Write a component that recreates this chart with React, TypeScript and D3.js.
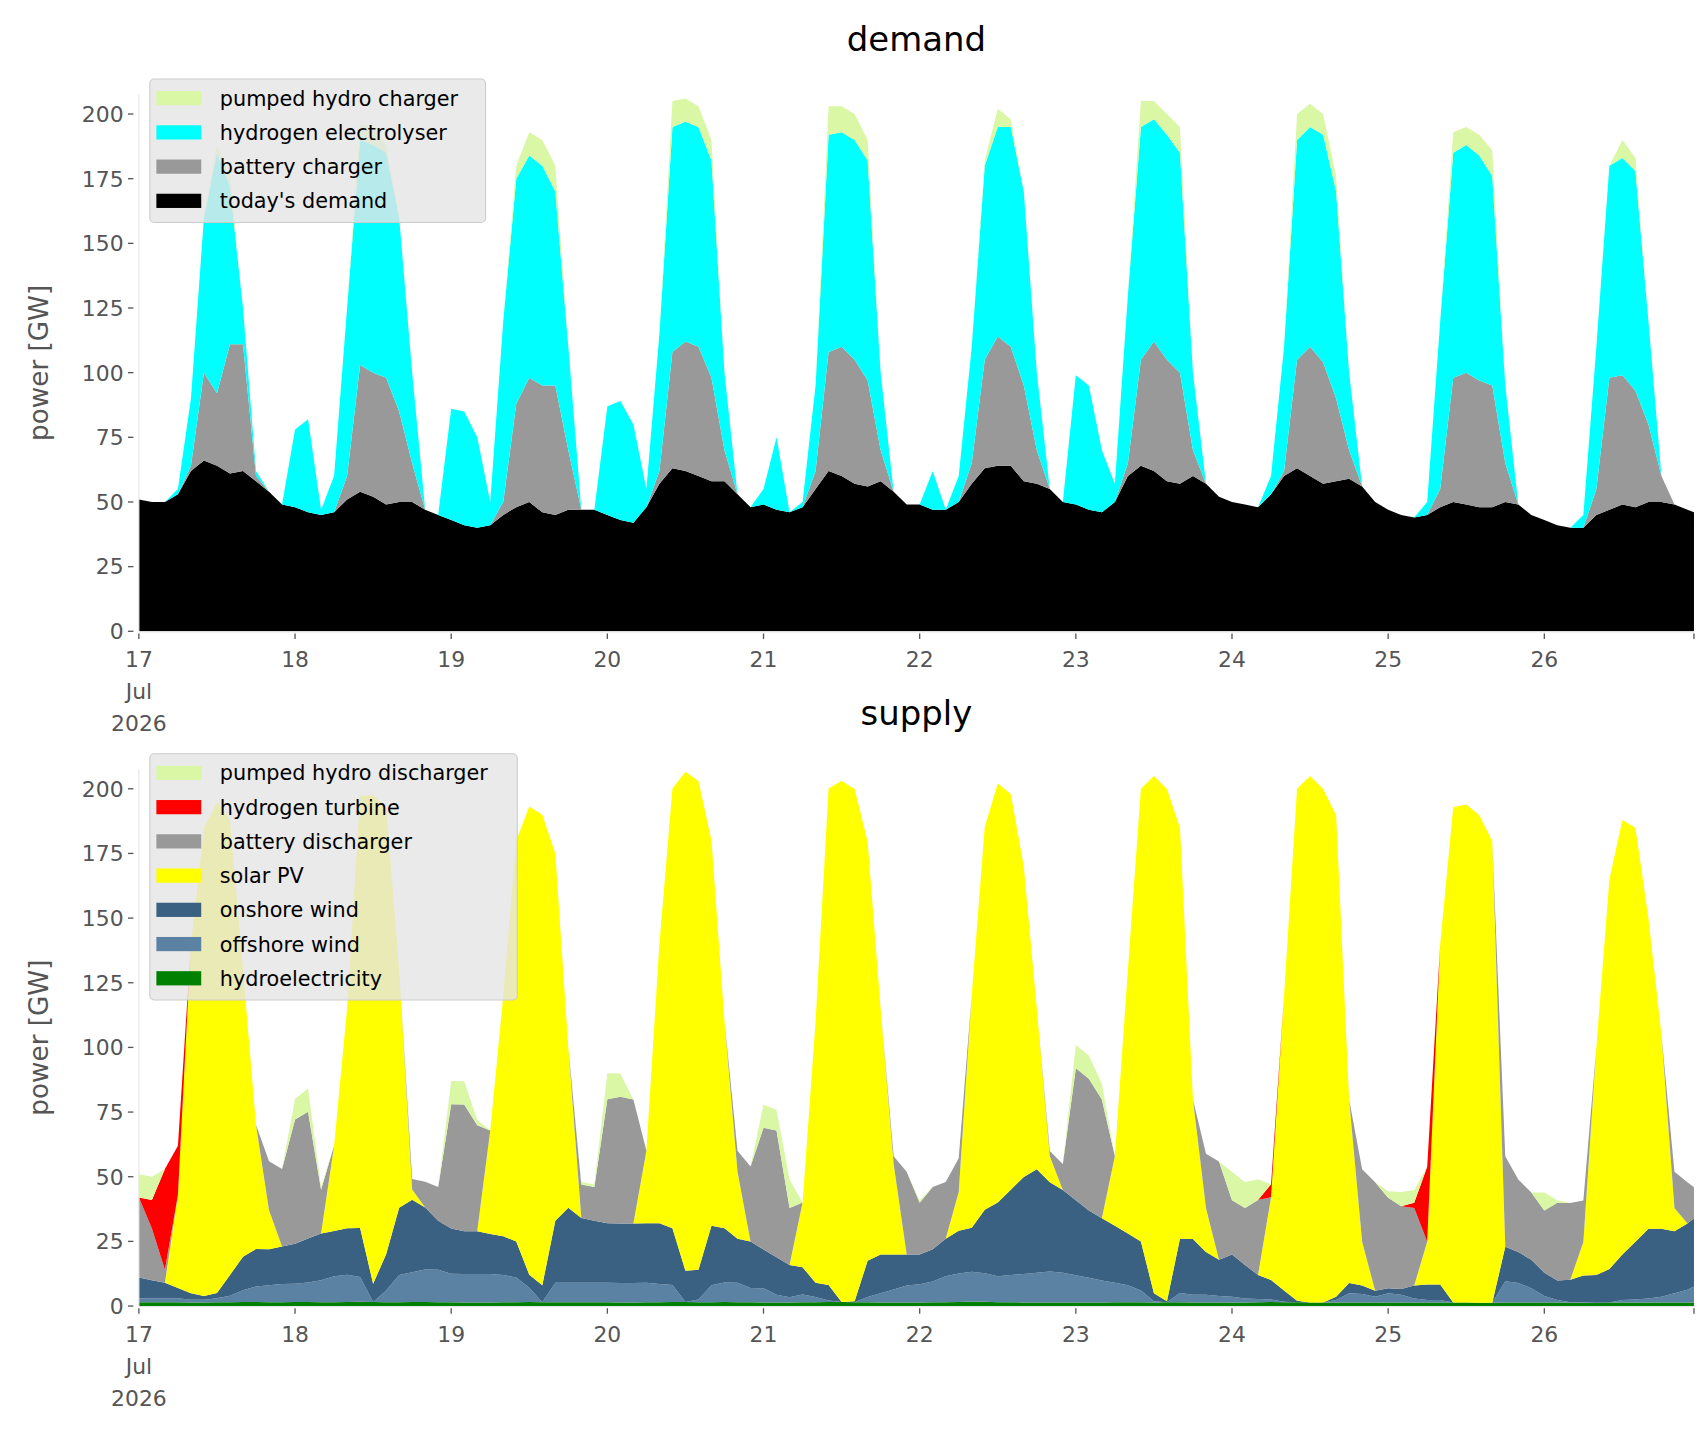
import { useEffect } from 'react';
import * as d3 from 'd3';

// two-hourly samples from 17 Jul 2026 00:00, last sample at 26 Jul 23:00
const dayLabels = ['17', '18', '19', '20', '21', '22', '23', '24', '25', '26'];
const yTicks = [0, 25, 50, 75, 100, 125, 150, 175, 200];

// ---- demand side (GW) ----
const todaysDemand = [
  51, 50, 50, 53, 62, 66, 64, 61, 62, 58, 54, 49,
  48, 46, 45, 46, 51, 54, 52, 49, 50, 50, 47, 45,
  43, 41, 40, 41, 45, 48, 50, 46, 45, 47, 47, 47,
  45, 43, 42, 48, 57, 63, 62, 60, 58, 58, 53, 48,
  49, 47, 46, 48, 55, 62, 60, 57, 56, 58, 54, 49,
  49, 47, 47, 50, 57, 63, 64, 64, 58, 57, 55, 50,
  49, 47, 46, 50, 60, 64, 62, 58, 57, 60, 57, 52,
  50, 49, 48, 53, 60, 63, 60, 57, 58, 59, 56, 50,
  47, 45, 44, 45, 48, 50, 49, 48, 48, 50, 49, 45,
  43, 41, 40, 40, 45, 47, 49, 48, 50, 50, 49, 47, 46,
];
const batteryCharger = [
  0, 0, 0, 0, 2, 34, 28, 50, 49, 2, 0, 0,
  0, 0, 0, 0, 9, 49, 48, 49, 35, 15, 0, 0,
  0, 0, 0, 0, 5, 40, 48, 49, 50, 23, 0, 0,
  0, 0, 0, 0, 5, 45, 50, 50, 40, 12, 0, 0,
  0, 0, 0, 0, 7, 46, 50, 48, 41, 12, 0, 0,
  0, 0, 0, 0, 8, 42, 50, 46, 37, 13, 0, 0,
  0, 0, 0, 0, 5, 41, 50, 47, 43, 10, 0, 0,
  0, 0, 0, 0, 2, 42, 50, 47, 32, 11, 0, 0,
  0, 0, 0, 0, 7, 48, 51, 49, 47, 15, 0, 0,
  0, 0, 0, 0, 10, 51, 50, 45, 30, 10, 0, 0, 0,
];
const hydrogenElectrolyser = [
  0, 0, 0, 2, 26, 60, 93, 61, 14, 2, 0, 0,
  30, 36, 2, 14, 65, 87, 88, 87, 75, 35, 0, 0,
  43, 44, 35, 9, 70, 87, 86, 85, 75, 40, 0, 0,
  42, 46, 38, 7, 53, 87, 85, 85, 84, 30, 0, 0,
  6, 28, 0, 2, 33, 84, 83, 85, 85, 30, 0, 0,
  0, 15, 0, 10, 45, 75, 81, 85, 75, 30, 0, 0,
  50, 48, 24, 7, 65, 90, 86, 87, 85, 30, 0, 0,
  0, 0, 0, 7, 48, 85, 85, 88, 80, 30, 0, 0,
  0, 0, 0, 5, 65, 87, 88, 87, 81, 30, 0, 0,
  0, 0, 0, 5, 55, 82, 84, 85, 40, 0, 0, 0, 0,
];
const pumpedHydroCharger = [
  0, 0, 0, 0, 0, 0, 3, 4, 0, 0, 0, 0,
  0, 0, 0, 0, 0, 6, 7, 3, 0, 0, 0, 0,
  0, 0, 0, 0, 0, 5, 9, 10, 10, 0, 0, 0,
  0, 0, 0, 0, 0, 10, 9, 8, 8, 0, 0, 0,
  0, 0, 0, 0, 0, 11, 10, 10, 8, 0, 0, 0,
  0, 0, 0, 0, 0, 2, 7, 3, 0, 0, 0, 0,
  0, 0, 0, 0, 0, 10, 7, 8, 10, 0, 0, 0,
  0, 0, 0, 0, 0, 10, 9, 8, 6, 0, 0, 0,
  0, 0, 0, 0, 0, 8, 7, 8, 10, 0, 0, 0,
  0, 0, 0, 0, 0, 0, 7, 5, 0, 0, 0, 0, 0,
];

// ---- supply side (GW) ----
const hydroelectricity = [
  1.5, 1.5, 1.5, 1.5, 1.4, 1.4, 1.5, 1.5, 1.6, 1.6, 1.5, 1.5,
  1.6, 1.6, 1.5, 1.5, 1.6, 1.7, 1.6, 1.5, 1.5, 1.6, 1.6, 1.5,
  1.5, 1.4, 1.4, 1.4, 1.5, 1.5, 1.6, 1.5, 1.5, 1.5, 1.5, 1.5,
  1.5, 1.4, 1.4, 1.5, 1.5, 1.6, 1.6, 1.5, 1.5, 1.6, 1.5, 1.5,
  1.4, 1.4, 1.4, 1.5, 1.5, 1.6, 1.6, 1.5, 1.5, 1.4, 1.4, 1.4,
  1.4, 1.5, 1.5, 1.6, 1.8, 1.7, 1.5, 1.5, 1.4, 1.4, 1.4, 1.4,
  1.4, 1.4, 1.4, 1.5, 1.5, 1.5, 1.4, 1.5, 1.5, 1.4, 1.4, 1.4,
  1.4, 1.4, 1.5, 1.6, 1.5, 1.5, 1.4, 1.4, 1.4, 1.4, 1.4, 1.4,
  1.4, 1.4, 1.4, 1.4, 1.4, 1.4, 1.4, 1.3, 1.3, 1.4, 1.4, 1.4,
  1.4, 1.4, 1.3, 1.3, 1.3, 1.4, 1.4, 1.4, 1.4, 1.4, 1.4, 1.4, 1.4,
];
const offshoreWind = [
  1.5, 1.5, 1.5, 1.5, 1, 1, 1.5, 2.5, 4.5, 6, 6.5, 7,
  7, 7.5, 8.5, 10, 10.5, 9.5, 0, 4.5, 10.5, 11.5, 12.5, 12.5,
  11, 11, 11, 11, 10.5, 9.5, 5.5, 0, 7.5, 7.5, 7.5, 7.5,
  7.5, 7.5, 7.5, 7.5, 7, 6.5, 0, 1, 6.5, 7.5, 7.5, 5.5,
  5.5, 3, 2, 3, 2, 0.5, 0, 0, 2, 3.5, 5, 6.5,
  7, 8, 10, 11, 11.5, 11, 10, 10.5, 11, 11.5, 12, 11.5,
  10.5, 9.5, 8.5, 7.5, 6.5, 4.5, 0.5, 0, 3.5, 3, 3, 2.5,
  2.2, 1.5, 1.2, 0.9, 0.2, 0, 0, 0, 0.9, 3.5, 3.3, 2.2,
  3.5, 3, 1.5, 0.9, 0.9, 0, 0, 0, 0, 8.2, 7.5, 5.5,
  2.5, 0.9, 0.2, 0.2, 0, 0, 0.9, 1.1, 1.5, 2.2, 3.5, 4.9, 6.2,
];
const onshoreWind = [
  8, 7, 6, 4, 2.5, 1.5, 2, 8, 13, 14.5, 14, 14.5,
  15.5, 17, 18, 17.5, 18, 19, 7, 14, 26, 28, 24, 19,
  17.5, 16.5, 16.5, 15.5, 15, 14, 5, 6.5, 24, 29, 25, 24,
  23, 23, 23, 23, 23.5, 22, 12, 11.5, 23, 21, 17, 18,
  15, 14.5, 12.5, 10.5, 5.5, 6, 0, 0.4, 14, 15, 13.5, 12,
  11.5, 12.5, 14.5, 16.5, 17, 24.5, 28.5, 33, 37.5, 40, 34.5, 32,
  29, 26, 24, 22, 20, 19, 3, 0.4, 21, 21.5, 16.5, 14,
  16.3, 13, 9.3, 7.6, 4.3, 0.5, 0, 0, 1.3, 4, 3.2, 2.3,
  2, 2.2, 5, 6, 6, 0, 0, 0, 0, 13.3, 12, 11,
  9, 7.6, 8.7, 10.3, 10.7, 12.9, 17.6, 22.4, 27, 26.3, 24, 25.6, 26.3,
];
const solarPV = [
  0, 0, 0, 36, 135, 181, 190, 176, 111, 48, 15, 0,
  0, 0, 0, 33, 85, 167, 189, 173, 92, 4, 0, 0,
  0, 0, 0, 40, 93, 155, 181, 182, 142, 62, 0, 0,
  0, 0, 0, 28, 108, 170, 193, 189, 149, 80, 26, 0,
  0, 0, 0, 25, 101, 192, 201.5, 198, 162, 95, 35, 0,
  0, 0, 0, 15, 90, 148, 162, 153, 120, 62, 10, 0,
  0, 0, 0, 27, 102, 175, 200, 198, 159, 54, 17, 0,
  0, 0, 0, 32, 114, 198, 203.5, 198.5, 186.3, 71, 17, 0,
  0, 0, 0, 16.6, 131.6, 191.5, 192.5, 188.5, 178.5, 0, 0, 0,
  0, 0, 0, 13, 88, 150.6, 168, 160, 120, 75, 9, 0, 0,
];
const batteryDischarger = [
  31, 20, 5, 0, 0, 0, 0, 0, 0, 0, 19, 30,
  48, 49, 17, 0, 0, 0, 0, 0, 0, 4, 10, 13,
  48, 49, 41, 0, 0, 0, 0, 0, 0, 0, 13, 13,
  48, 49, 48, 0, 0, 0, 0, 0, 0, 0, 8, 29,
  47, 49, 22, 0, 0, 0, 0, 0, 0, 0, 3, 32,
  20, 24, 22, 13, 0, 0, 0, 0, 0, 0, 2, 10,
  51, 51, 46, 0, 0, 0, 0, 0, 0, 0, 21, 38,
  21, 22, 29, 0, 0, 0, 0, 0, 0, 0, 28, 42,
  35, 32, 30, 0, 0, 0, 0, 0, 0, 35, 28, 26,
  24, 30, 29.6, 16, 0, 0, 0, 0, 0, 0, 14, 16, 12,
];
const hydrogenTurbine = [
  0, 11, 39, 19, 0, 0, 0, 0, 0, 0, 0, 0,
  0, 0, 0, 0, 0, 0, 0, 0, 0, 0, 0, 0,
  0, 0, 0, 0, 0, 0, 0, 0, 0, 0, 0, 0,
  0, 0, 0, 0, 0, 0, 0, 0, 0, 0, 0, 0,
  0, 0, 0, 0, 0, 0, 0, 0, 0, 0, 0, 0,
  0, 0, 0, 0, 0, 0, 0, 0, 0, 0, 0, 0,
  0, 0, 0, 0, 0, 0, 0, 0, 0, 0, 0, 0,
  0, 0, 0, 5, 0, 0, 0, 0, 0, 0, 0, 0,
  0, 0, 2, 29, 0, 0, 0, 0, 0, 0, 0, 0,
  0, 0, 0, 0, 0, 0, 0, 0, 0, 0, 0, 0, 0,
];
const pumpedHydroDischarger = [
  9, 9, 0, 0, 0, 0, 0, 0, 0, 0, 0, 0,
  8, 9, 1, 0, 0, 0, 0, 0, 0, 0, 0, 0,
  9, 9, 2, 0, 0, 0, 0, 0, 0, 0, 1, 1,
  10, 9, 0, 0, 0, 0, 0, 0, 0, 0, 0, 0,
  9, 8, 11, 0, 0, 0, 0, 0, 0, 0, 0, 0,
  1, 0, 0, 0, 0, 0, 0, 0, 0, 0, 0, 0,
  9, 9, 6, 0, 0, 0, 0, 0, 0, 0, 0, 0,
  11, 10, 8, 0, 0, 0, 0, 0, 0, 0, 0, 0,
  2.5, 5.5, 5, 0, 0, 0, 0, 0, 0, 0, 0, 0,
  7, 1, 0, 0, 0, 0, 0, 0, 0, 0, 0, 0, 0,
];

const hours = d3.range(0, 240, 2).concat([239]);

interface Series { name: string; values: number[]; color: string; }

const demandSeries: Series[] = [
  { name: "today's demand", values: todaysDemand, color: '#000000' },
  { name: 'battery charger', values: batteryCharger, color: '#999999' },
  { name: 'hydrogen electrolyser', values: hydrogenElectrolyser, color: '#00ffff' },
  { name: 'pumped hydro charger', values: pumpedHydroCharger, color: '#daf7a6' },
];
const supplySeries: Series[] = [
  { name: 'hydroelectricity', values: hydroelectricity, color: '#008000' },
  { name: 'offshore wind', values: offshoreWind, color: '#5b82a3' },
  { name: 'onshore wind', values: onshoreWind, color: '#3b6182' },
  { name: 'solar PV', values: solarPV, color: '#ffff00' },
  { name: 'battery discharger', values: batteryDischarger, color: '#999999' },
  { name: 'hydrogen turbine', values: hydrogenTurbine, color: '#ff0000' },
  { name: 'pumped hydro discharger', values: pumpedHydroDischarger, color: '#daf7a6' },
];

const FONT = 'DejaVu Sans, sans-serif';
const X0 = 127, X1 = 1549;
const PX_PER_GW = 2.365;

function drawPanel(
  svg: d3.Selection<SVGSVGElement, unknown, null, undefined>,
  series: Series[], title: string, titleY: number, zeroY: number,
  legendX: number, legendY: number, legendW: number,
) {
  const x = d3.scaleLinear().domain([0, 239]).range([X0, X1]);
  const topY = zeroY - 207.6 * PX_PER_GW;
  const y = d3.scaleLinear().domain([0, 207.6]).range([zeroY, topY]);

  const rows = hours.map((h, i) => {
    const r: Record<string, number> = { h };
    series.forEach(s => { r[s.name] = s.values[i]; });
    return r;
  });
  const stacked = d3.stack<Record<string, number>>().keys(series.map(s => s.name))(rows);
  const area = d3.area<d3.SeriesPoint<Record<string, number>>>()
    .x(d => x(d.data.h)).y0(d => y(d[0])).y1(d => y(d[1]));

  const g = svg.append('g');
  g.selectAll('path.layer').data(stacked).enter().append('path')
    .attr('d', d => area(d) as string)
    .attr('fill', (_, i) => series[i].color)
    .attr('stroke', 'none');

  // spines
  g.append('line').attr('x1', X0).attr('x2', X0).attr('y1', topY).attr('y2', zeroY)
    .attr('stroke', '#e6e6e6');
  g.append('line').attr('x1', X0).attr('x2', X1).attr('y1', zeroY + 0.5).attr('y2', zeroY + 0.5)
    .attr('stroke', '#e6e6e6');

  // y axis
  const ya = g.append('g');
  yTicks.forEach(t => {
    ya.append('line').attr('x1', X0 - 10).attr('x2', X0 - 5).attr('y1', y(t)).attr('y2', y(t))
      .attr('stroke', '#555').attr('stroke-width', 1.2);
    ya.append('text').attr('x', X0 - 14).attr('y', y(t)).attr('dy', '0.36em')
      .attr('text-anchor', 'end').attr('font-size', 20).attr('fill', '#555')
      .attr('font-family', FONT).text(String(t));
  });
  g.append('text')
    .attr('transform', `translate(35,${(topY + zeroY) / 2}) rotate(-90)`)
    .attr('text-anchor', 'middle').attr('dy', '0.36em').attr('font-size', 24)
    .attr('fill', '#555').attr('font-family', FONT).text('power [GW]');

  // x axis
  const dayTicks = dayLabels.map((_, i) => i * 24).concat([239]);
  dayTicks.forEach((t, i) => {
    g.append('line').attr('x1', x(t)).attr('x2', x(t)).attr('y1', zeroY + 2).attr('y2', zeroY + 7)
      .attr('stroke', '#555').attr('stroke-width', 1.2);
    if (i < dayLabels.length) {
      const lines = i === 0 ? [dayLabels[i], 'Jul', '2026'] : [dayLabels[i]];
      lines.forEach((txt, k) => {
        g.append('text').attr('x', x(t)).attr('y', zeroY + 33 + k * 29)
          .attr('text-anchor', 'middle').attr('font-size', 20).attr('fill', '#555')
          .attr('font-family', FONT).text(txt);
      });
    }
  });

  g.append('text').attr('x', (X0 + X1) / 2).attr('y', titleY).attr('text-anchor', 'middle')
    .attr('font-size', 31).attr('font-family', FONT).attr('fill', '#000').text(title);

  // legend (top entry = last stacked series)
  const items = series.slice().reverse();
  const lg = g.append('g');
  lg.append('rect').attr('x', legendX).attr('y', legendY).attr('width', legendW)
    .attr('height', items.length * 31.3 + 6).attr('rx', 4)
    .attr('fill', '#e5e5e5').attr('fill-opacity', 0.8).attr('stroke', '#cccccc');
  items.forEach((s, i) => {
    const cy = legendY + 17.5 + i * 31.3;
    lg.append('rect').attr('x', legendX + 6).attr('y', cy - 6.5).attr('width', 41).attr('height', 13)
      .attr('fill', s.color);
    lg.append('text').attr('x', legendX + 64).attr('y', cy).attr('dy', '0.36em')
      .attr('font-size', 19).attr('font-family', FONT).attr('fill', '#000').text(s.name);
  });
}

export default function App() {
  useEffect(() => {
    document.body.style.margin = '0';
    const svg = d3.select<SVGSVGElement, unknown>('#chart');
    svg.selectAll('*').remove();
    drawPanel(svg, demandSeries, 'demand', 46, 577, 137, 72, 307);
    drawPanel(svg, supplySeries, 'supply', 663, 1194, 137, 689, 336);
  }, []);

  return (
    <svg id="chart" width={1706} height={1431} viewBox="0 0 1560 1308"
      style={{ position: 'absolute', left: 0, top: 0, background: '#fff' }} />
  );
}
